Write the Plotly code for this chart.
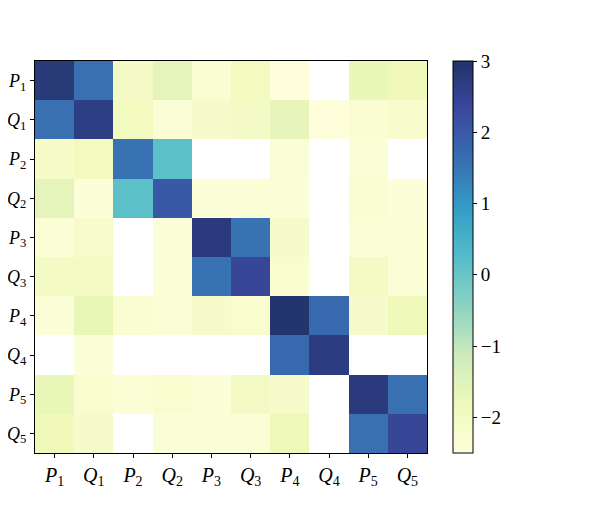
import plotly.graph_objects as go

# labels for rows / columns
labels = ["P1", "Q1", "P2", "Q2", "P3", "Q3", "P4", "Q4", "P5", "Q5"]
tick_text = ["<i>%s</i><sub>%s</sub>" % (s[0], s[1]) for s in labels]

# log-scale values (None = empty cell)
row_P1 = [2.80, 1.60, -2.05, -1.60, -2.30, -1.95, -2.45, None, -1.70, -1.85]
row_Q1 = [1.60, 2.65, -1.95, -2.35, -2.15, -2.05, -1.65, -2.45, -2.30, -2.20]
row_P2 = [-2.10, -1.95, 1.55, 0.15, None, None, -2.35, None, -2.35, None]
row_Q2 = [-1.60, -2.40, 0.15, 2.00, -2.40, -2.40, -2.40, None, -2.30, -2.40]
row_P3 = [-2.35, -2.20, None, -2.40, 2.75, 1.55, -2.15, None, -2.35, -2.35]
row_Q3 = [-2.00, -2.00, None, -2.40, 1.55, 2.40, -2.25, None, -2.00, -2.35]
row_P4 = [-2.40, -1.70, -2.30, -2.35, -2.15, -2.25, 2.95, 1.70, -2.15, -1.80]
row_Q4 = [None, -2.40, None, None, None, None, 1.70, 2.70, None, None]
row_P5 = [-1.70, -2.25, -2.35, -2.25, -2.40, -2.00, -2.15, None, 2.75, 1.60]
row_Q5 = [-1.85, -2.15, None, -2.35, -2.35, -2.35, -1.80, None, 1.60, 2.40]

z = [row_P1, row_Q1, row_P2, row_Q2, row_P3, row_Q3, row_P4, row_Q4, row_P5, row_Q5]

cbar_ticks = [-2, -1, 0, 1, 2, 3]

# matplotlib YlGnBu, drawn with a little transparency
ylgnbu = ["#ffffd9", "#edf8b1", "#c7e9b4", "#7fcdbb", "#41b6c4",
          "#1d91c0", "#225ea8", "#253494", "#081d58"]


def with_alpha(hex_col, a=0.9):
    r, g, b = (int(hex_col[i:i + 2], 16) for i in (1, 3, 5))
    return "rgba(%d,%d,%d,%.2f)" % (r, g, b, a)


cscale = [[i / 8, with_alpha(c)] for i, c in enumerate(ylgnbu)]

serif = "Liberation Serif, DejaVu Serif, serif"

fig = go.Figure(go.Heatmap(
    z=z,
    x=labels,
    y=labels,
    zmin=-2.5,
    zmax=3,
    colorscale=cscale,
    hoverongaps=False,
    colorbar=dict(
        thickness=20,
        len=1,
        lenmode="fraction",
        x=1.066,
        xanchor="left",
        xpad=0,
        y=0.5,
        yanchor="middle",
        ypad=0,
        tickvals=cbar_ticks,
        ticks="outside",
        ticklen=4,
        tickcolor="black",
        outlinewidth=1,
        outlinecolor="black",
        tickfont=dict(family=serif, size=19, color="black"),
    ),
))

axis_style = dict(
    tickvals=labels,
    ticktext=tick_text,
    ticks="outside",
    ticklen=4,
    tickcolor="black",
    showline=True,
    linecolor="black",
    mirror=True,
    showgrid=False,
    zeroline=False,
    automargin=False,
)
fig.update_xaxes(tickfont=dict(family=serif, size=20, color="black"), **axis_style)
fig.update_yaxes(autorange="reversed",
                 tickfont=dict(family=serif, size=18, color="black"),
                 **axis_style)

# page body adds 8px, so the figure is a bit smaller than the window
fig.update_layout(
    width=590,
    height=502,
    margin=dict(l=27, r=171, t=53, b=57, autoexpand=False),
    plot_bgcolor="white",
    paper_bgcolor="white",
)

fig.write_html("out.html")
